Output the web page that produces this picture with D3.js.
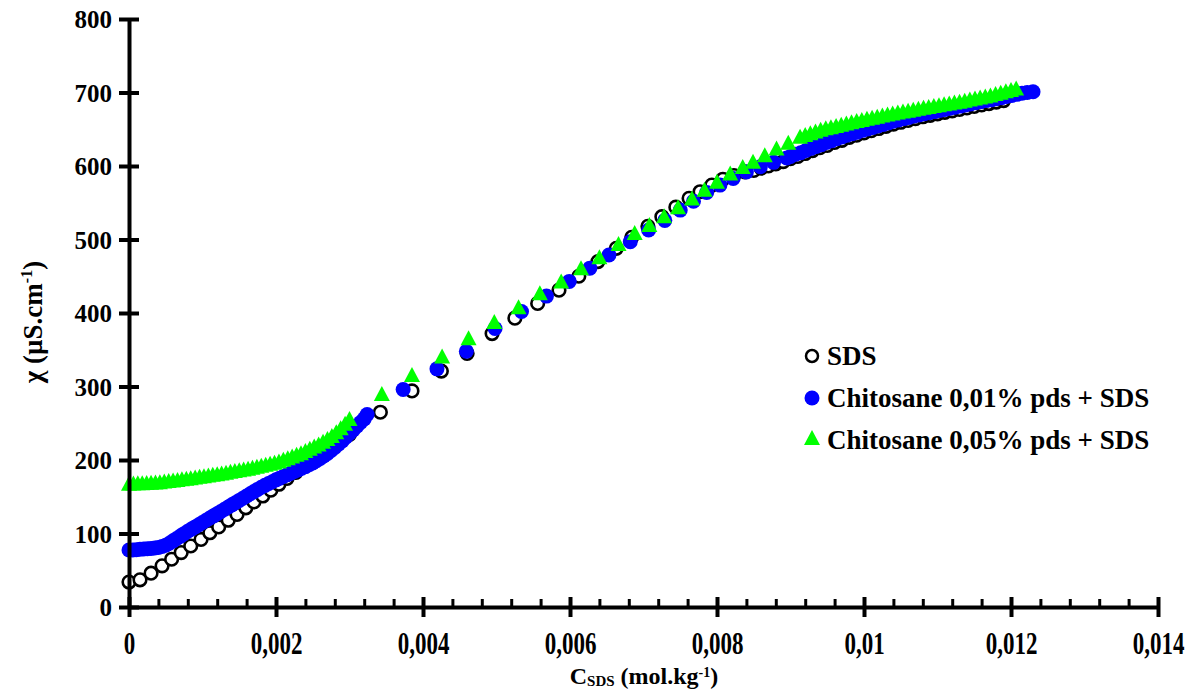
<!DOCTYPE html>
<html><head><meta charset="utf-8">
<script src="https://cdn.jsdelivr.net/npm/d3@7"></script>
<style>body{margin:0;background:#fff}svg{display:block}</style>
</head><body>
<svg id="c" width="1197" height="691"></svg>
<script>
const xTicks = [0, 0.002, 0.004, 0.006, 0.008, 0.01, 0.012, 0.014];
const xTickLabels = ["0", "0,002", "0,004", "0,006", "0,008", "0,01", "0,012", "0,014"];
const yTicks = [0, 100, 200, 300, 400, 500, 600, 700, 800];
const seriesNames = ["SDS", "Chitosane 0,01% pds + SDS", "Chitosane 0,05% pds + SDS"];

const sdsPoints = [[0,34],[0.00015,37],[0.0003,46],[0.00045,56],[0.00058,65],[0.00071,74],[0.00084,83],[0.00098,92],[0.0011,101],[0.00122,109],[0.00135,118],[0.00147,126],[0.00159,135],[0.0017,143],[0.00182,151],[0.00193,159],[0.00204,167],[0.00215,175],[0.00227,183],[0.00238,191],[0.00249,199],[0.0026,207],[0.00271,215],[0.0028,222],[0.0029,228],[0.003,235],
[0.00342,265],[0.00385,294],[0.00425,321],[0.0046,345],[0.00494,372],[0.00525,393],[0.00556,413],[0.00585,431],[0.00612,450],[0.00638,470],[0.00663,488],[0.00684,503],[0.00706,518],[0.00725,531],[0.00744,544],[0.00762,556],[0.00777,565],[0.00793,574],[0.00808,582],[0.00823,587],[0.00838,592],
[0.0085,594],[0.0086,597],[0.0087,600],[0.0088,603],[0.0089,606],[0.009,610],[0.0091,613],[0.0092,617],[0.0093,621],[0.0094,625],[0.0095,628],[0.0096,632],[0.0097,635],[0.0098,639],[0.0099,642],[0.01,645],[0.0101,648],[0.0102,651],[0.0103,654],[0.0104,657],[0.0105,659.5],[0.0106,662],[0.0107,664.5],[0.0108,667],[0.0109,669],[0.011,671],[0.0111,673],[0.0112,675],[0.0113,677],[0.0114,679],[0.0115,681],[0.0116,683],[0.0117,685],[0.0118,687],[0.0119,689]];

const chito01Points = [[0,77.5],[0.00005,77.7],[0.0001,78],[0.00015,78.5],[0.0002,79],[0.00025,79.2],[0.0003,79.5],[0.00035,80.2],[0.0004,81],[0.00045,82.3],[0.0005,84],[0.00055,86.8],[0.0006,90],[0.00065,93.2],[0.0007,96.5],[0.00075,99.8],[0.0008,103],[0.00085,106],[0.0009,109],[0.00095,112],[0.001,115],[0.00105,118],[0.0011,121],[0.00115,124],[0.0012,127],[0.00125,130],[0.0013,133],[0.00135,136],[0.0014,139],[0.00145,142],[0.0015,145],[0.00155,148],[0.0016,151],[0.00165,154],[0.0017,157],[0.00175,160],[0.0018,163],[0.00185,165.5],[0.0019,168],[0.00195,170.5],[0.002,173],[0.00205,175.3],[0.0021,177.5],[0.00215,179.8],[0.0022,182],[0.00225,184.3],[0.0023,186.5],[0.00235,188.8],[0.0024,191],[0.00245,193.5],[0.0025,196],[0.00255,199],[0.0026,202],[0.00265,205.5],[0.0027,209],[0.00275,213],[0.0028,217],[0.00285,221.5],[0.0029,226],[0.00295,231],[0.003,236],[0.00305,241],[0.0031,246],[0.00315,251],[0.0032,256],[0.00324,262],
[0.00373,296],[0.00419,324],[0.00459,348],[0.00498,379],[0.00534,402],[0.00568,423],[0.00599,443],[0.00627,461],[0.00653,479],[0.00682,497],[0.00707,513],[0.00729,526],[0.0075,540],[0.00768,552],[0.00786,564],[0.00804,574],[0.00822,583],[0.0084,592],[0.00859,599],[0.00877,605],[0.00895,611],
[0.009,613],[0.00907,616],[0.00914,618],[0.00921,621],[0.00928,624],[0.00935,626.5],[0.00942,629],[0.00949,632],[0.00956,634.5],[0.00963,637],[0.0097,639.5],[0.00977,642],[0.00984,644],[0.00991,646],[0.00998,648.5],[0.01005,650.5],[0.01012,652.5],[0.01019,654.5],[0.01026,656.5],[0.01033,658.5],[0.0104,661],[0.01047,662.5],[0.01054,664.5],[0.01061,666],[0.01068,668],[0.01075,669.5],[0.01082,671],[0.01089,672.5],[0.01096,674],[0.01103,675.5],[0.0111,677],[0.01117,678.5],[0.01124,680],[0.01131,681.5],[0.01138,683],[0.01145,684.5],[0.01152,686],[0.01159,687.5],[0.01166,689],[0.01173,690],[0.0118,691.5],[0.01187,693],[0.01194,694.5],[0.01201,696],[0.01208,697.5],[0.01215,699],[0.01222,700],[0.0123,701]];

const chito05Points = [[0,165],[0.00006,165.2],[0.00012,165.5],[0.00018,165.8],[0.00024,166.1],[0.0003,166.4],[0.00036,166.7],[0.00042,167.1],[0.00048,167.9],[0.00054,168.6],[0.0006,169.4],[0.00066,170.2],[0.00072,171],[0.00078,171.7],[0.00084,172.6],[0.0009,173.5],[0.00096,174.4],[0.00102,175.3],[0.00108,176.2],[0.00114,177.1],[0.0012,178],[0.00126,179],[0.00132,180],[0.00138,181.2],[0.00144,182.2],[0.0015,183.2],[0.00156,184.3],[0.00162,185.4],[0.00168,186.7],[0.00174,188],[0.0018,189.4],[0.00186,190.8],[0.00192,192.2],[0.00198,193.6],[0.00204,195.4],[0.0021,197.6],[0.00216,199.8],[0.00222,202],[0.00228,204.3],[0.00234,206.5],[0.0024,209.5],[0.00246,212.5],[0.00252,215.5],[0.00258,218.5],[0.00264,222],[0.0027,226],[0.00276,230],[0.00282,235],[0.00288,240.5],[0.00294,246.5],[0.003,253],
[0.00344,287],[0.00385,313],[0.00426,338],[0.00462,363],[0.00497,385],[0.0053,405],[0.00559,424],[0.00588,440],[0.00615,458],[0.0064,473],[0.00666,491],[0.00688,506],[0.00708,517],[0.00728,529],[0.00747,541],[0.00766,553],[0.00783,565],[0.008,576],[0.00818,587],[0.00835,596],[0.00849,603],[0.00865,612],[0.00881,621],[0.00897,629],[0.00913,637],
[0.0092,639.4],[0.00927,641.8],[0.00934,644.2],[0.00941,646.6],[0.00948,648.5],[0.00955,650.1],[0.00962,651.8],[0.00969,653.5],[0.00976,655.1],[0.00983,656.8],[0.0099,658.5],[0.00997,660],[0.01004,661.5],[0.01011,662.9],[0.01018,664.4],[0.01025,665.9],[0.01032,667.4],[0.01039,668.7],[0.01046,670],[0.01053,671.3],[0.0106,672.6],[0.01067,673.8],[0.01074,675.1],[0.01081,676.4],[0.01088,677.6],[0.01095,678.8],[0.01102,680],[0.01109,681.2],[0.01116,682.4],[0.01123,683.6],[0.0113,684.8],[0.01137,686.2],[0.01144,687.6],[0.01151,689],[0.01158,690.4],[0.01165,691.8],[0.01172,693.2],[0.01179,695.1],[0.01186,697],[0.01193,698.9],[0.012,700.8],[0.01207,702.7]];

const FONT = "'Liberation Serif','Times New Roman',serif";
const svg = d3.select("#c");
const x = d3.scaleLinear().domain([0, 0.014]).range([129, 1158]);
const y = d3.scaleLinear().domain([0, 800]).range([607, 19]);

const triW = 16, triH = 15;
const triPath = `M0,${-triH*2/3}L${triW/2},${triH/3}L${-triW/2},${triH/3}Z`;

// Series (drawn in legend order: later series on top)
svg.append("g").selectAll("circle").data(sdsPoints).join("circle")
  .attr("cx", d => x(d[0])).attr("cy", d => y(d[1])).attr("r", 6.3)
  .attr("fill", "#fff").attr("stroke", "#000").attr("stroke-width", 2.6);
svg.append("g").selectAll("circle").data(chito01Points).join("circle")
  .attr("cx", d => x(d[0])).attr("cy", d => y(d[1])).attr("r", 7.5)
  .attr("fill", "#0000ff");
svg.append("g").selectAll("path").data(chito05Points).join("path")
  .attr("d", triPath)
  .attr("transform", d => `translate(${x(d[0])},${y(d[1])})`)
  .attr("fill", "#00ff00");

// Y axis
const gy = svg.append("g").attr("transform", `translate(${x(0)},0)`)
  .call(d3.axisLeft(y).tickValues(yTicks).tickSizeInner(10).tickSizeOuter(0).tickFormat(d3.format("d")));
gy.select(".domain").attr("stroke", "#000").attr("stroke-width", 4);
gy.selectAll(".tick line").attr("x1", 10).attr("x2", -10).attr("stroke", "#000").attr("stroke-width", 4);
gy.selectAll(".tick text").attr("x", -17).attr("dy", "0.34em")
  .style("font-family", FONT).style("font-weight", "bold").style("font-size", "25px").attr("fill", "#000");

// X axis minor ticks
const minor = d3.range(0, 0.01401, 0.0004).filter(v => Math.abs(v / 0.002 - Math.round(v / 0.002)) > 1e-6);
const gxm = svg.append("g").attr("transform", `translate(0,${y(0)})`)
  .call(d3.axisBottom(x).tickValues(minor).tickSizeInner(0).tickSizeOuter(0).tickFormat(""));
gxm.select(".domain").remove();
gxm.selectAll(".tick line").attr("y1", -8).attr("y2", 2).attr("stroke", "#000").attr("stroke-width", 3);

// X axis major
const gx = svg.append("g").attr("transform", `translate(0,${y(0)})`)
  .call(d3.axisBottom(x).tickValues(xTicks).tickSizeInner(10).tickSizeOuter(0).tickFormat((d, i) => xTickLabels[i]));
gx.select(".domain").attr("stroke", "#000").attr("stroke-width", 4);
gx.selectAll(".tick line").attr("y1", -10).attr("y2", 10).attr("stroke", "#000").attr("stroke-width", 4);
gx.selectAll(".tick text").attr("y", 0).attr("dy", 0)
  .attr("transform", "translate(0,47) scale(1,1.35)")
  .style("font-family", FONT).style("font-weight", "bold").style("font-size", "23px").attr("fill", "#000");

// Axis titles
const xt = svg.append("text").attr("x", 644).attr("y", 684).attr("text-anchor", "middle")
  .style("font-family", FONT).style("font-weight", "bold").style("font-size", "24px");
xt.append("tspan").text("C");
xt.append("tspan").attr("dy", 2).style("font-size", "15px").text("SDS");
xt.append("tspan").attr("dy", -2).text(" (mol.kg");
xt.append("tspan").attr("dy", -7).style("font-size", "14px").text("-1");
xt.append("tspan").attr("dy", 7).text(")");

const yt = svg.append("text").attr("transform", "translate(42,322) rotate(-90)").attr("text-anchor", "middle")
  .style("font-family", FONT).style("font-weight", "bold").style("font-size", "27px");
yt.append("tspan").text("χ (µS.cm");
yt.append("tspan").attr("dy", -10).style("font-size", "16px").text("-1");
yt.append("tspan").attr("dy", 10).text(")");

// Legend
const legY = [356, 398, 440];
const leg = svg.append("g").style("font-family", FONT).style("font-weight", "bold").style("font-size", "27px");
leg.append("circle").attr("cx", 812).attr("cy", legY[0]).attr("r", 6).attr("fill", "#fff").attr("stroke", "#000").attr("stroke-width", 2.5);
leg.append("circle").attr("cx", 812).attr("cy", legY[1]).attr("r", 7.5).attr("fill", "#0000ff");
leg.append("path").attr("d", triPath).attr("transform", `translate(812,${legY[2]})`).attr("fill", "#00ff00");
seriesNames.forEach((n, i) => {
  leg.append("text").attr("x", 827).attr("y", legY[i] + 9).text(n);
});
</script>
</body></html>
